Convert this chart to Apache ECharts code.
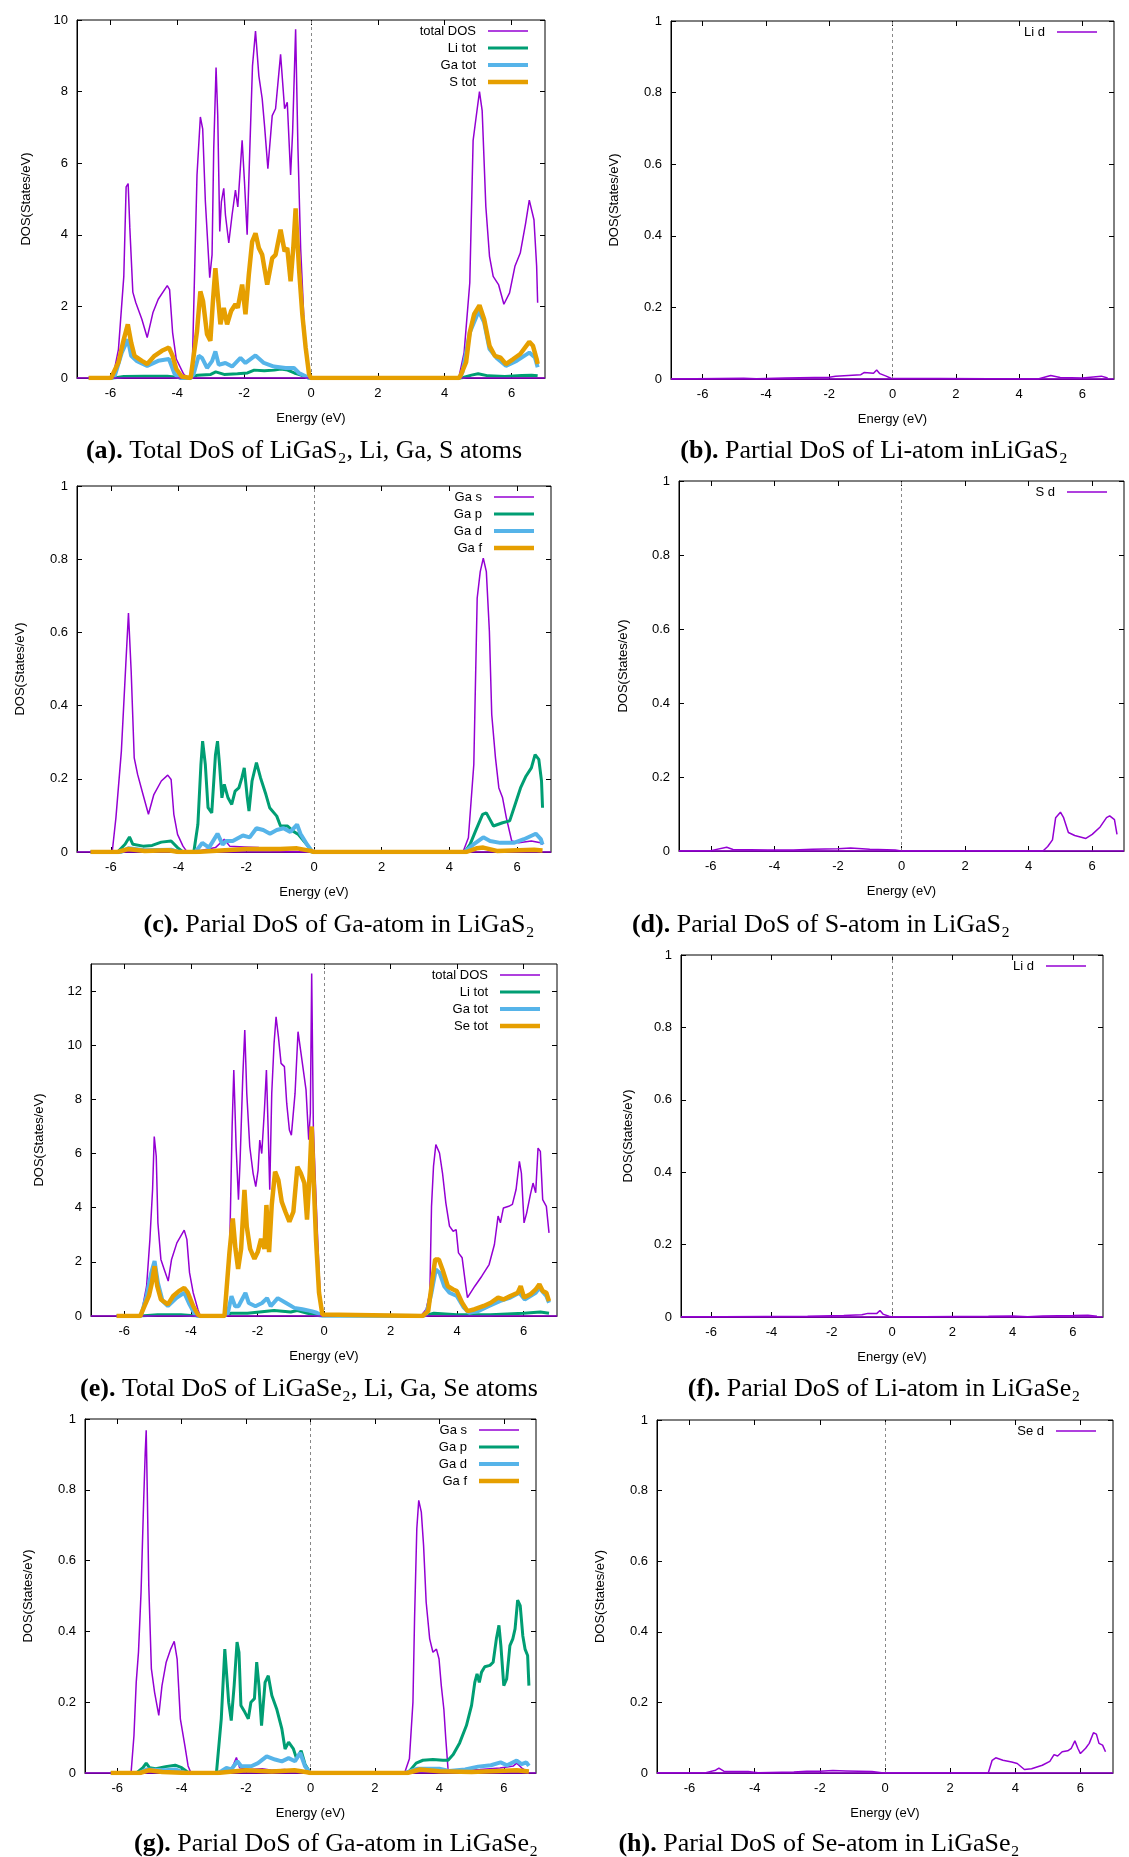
<!DOCTYPE html>
<html>
<head>
<meta charset="utf-8">
<script src="https://cdn.jsdelivr.net/npm/echarts@6/dist/echarts.min.js"></script>
<style>
  html, body { margin: 0; padding: 0; background: #fff; }
  #main { width: 1129px; height: 1857px; }
</style>
</head>
<body>
<div id="main"></div>
<script>
// tick values shared by the panels
const xTicks = [-6, -4, -2, 0, 2, 4, 6];
const yTicksA = [0, 2, 4, 6, 8, 10];
const yTicksE = [0, 2, 4, 6, 8, 10, 12];
const yTicksP = [0, 0.2, 0.4, 0.6, 0.8, 1];

// (a) LiGaS2 total + atoms  [energy eV, DOS]
const aTotal = [[-6.65,0],[-5.93,0],[-5.76,0.8],[-5.6,2.84],[-5.53,5.34],[-5.47,5.43],[-5.42,4.2],[-5.33,2.4],[-5.24,2.1],[-5.06,1.64],[-4.9,1.13],[-4.73,1.82],[-4.57,2.2],[-4.3,2.58],[-4.23,2.47],[-4.14,1.27],[-4.03,0.53],[-3.81,0.11],[-3.7,0],[-3.56,0],[-3.41,5.67],[-3.31,7.29],[-3.24,6.96],[-3.16,4.93],[-3.03,2.8],[-2.96,3.44],[-2.91,6.4],[-2.84,8.67],[-2.79,7.33],[-2.73,4.09],[-2.68,4.93],[-2.61,5.3],[-2.56,4.56],[-2.46,3.77],[-2.36,4.56],[-2.26,5.25],[-2.19,4.78],[-2.06,6.64],[-1.99,5.48],[-1.91,4.0],[-1.83,6.4],[-1.75,8.72],[-1.66,9.69],[-1.56,8.44],[-1.46,7.8],[-1.39,7.05],[-1.29,5.85],[-1.16,7.33],[-1.06,7.52],[-0.91,9.04],[-0.79,7.52],[-0.71,7.7],[-0.61,5.67],[-0.55,6.87],[-0.46,9.74],[-0.39,6.4],[-0.31,3.63],[-0.21,1.6],[-0.11,0.48],[-0.03,0.07],[0,0],[4.42,0],[4.58,0.71],[4.75,2.66],[4.85,6.64],[4.94,7.29],[5.04,8.0],[5.12,7.47],[5.23,4.79],[5.34,3.4],[5.45,2.84],[5.61,2.61],[5.77,2.06],[5.94,2.38],[6.1,3.12],[6.26,3.49],[6.42,4.32],[6.53,4.97],[6.67,4.42],[6.75,3.12],[6.78,2.1]];
const aLi = [[-6.65,0],[-5.9,0],[-5.6,0.04],[-5,0.05],[-4.3,0.05],[-4.0,0.02],[-3.6,0],[-3.4,0.08],[-3.0,0.1],[-2.85,0.17],[-2.6,0.1],[-2.2,0.12],[-1.9,0.14],[-1.7,0.22],[-1.4,0.2],[-1.1,0.22],[-0.9,0.25],[-0.7,0.22],[-0.5,0.14],[-0.3,0.08],[-0.1,0.01],[0,0],[4.5,0],[4.8,0.08],[5.0,0.12],[5.3,0.06],[5.8,0.04],[6.3,0.07],[6.6,0.08],[6.78,0.06]];
const aGa = [[-6.65,0],[-5.95,0],[-5.87,0.06],[-5.66,0.71],[-5.48,1.08],[-5.38,0.62],[-5.22,0.48],[-4.9,0.34],[-4.57,0.48],[-4.25,0.53],[-4.08,0.11],[-3.92,0],[-3.6,0],[-3.51,0.11],[-3.36,0.62],[-3.26,0.56],[-3.11,0.28],[-2.96,0.47],[-2.86,0.74],[-2.76,0.37],[-2.56,0.42],[-2.36,0.32],[-2.11,0.56],[-1.96,0.42],[-1.66,0.63],[-1.41,0.42],[-1.11,0.32],[-0.76,0.28],[-0.51,0.28],[-0.36,0.14],[-0.16,0.05],[-0.06,0],[4.45,0],[4.53,0.16],[4.75,1.27],[5.02,1.87],[5.18,1.55],[5.34,0.81],[5.56,0.55],[5.83,0.34],[6.15,0.48],[6.53,0.71],[6.7,0.57],[6.78,0.3]];
const aS = [[-6.65,0],[-5.98,0],[-5.76,0.44],[-5.6,1.08],[-5.48,1.5],[-5.38,0.99],[-5.28,0.62],[-5.06,0.48],[-4.9,0.39],[-4.68,0.62],[-4.46,0.76],[-4.25,0.85],[-4.14,0.62],[-4.03,0.25],[-3.87,0.04],[-3.6,0],[-3.56,0.04],[-3.41,1.31],[-3.31,2.42],[-3.23,2.15],[-3.11,1.22],[-3.01,1.04],[-2.94,2.06],[-2.86,3.07],[-2.79,2.33],[-2.71,1.5],[-2.61,1.96],[-2.51,1.5],[-2.39,1.87],[-2.26,2.06],[-2.19,1.96],[-2.06,2.61],[-1.96,1.78],[-1.86,2.89],[-1.76,3.81],[-1.66,4.04],[-1.56,3.63],[-1.46,3.44],[-1.31,2.61],[-1.16,3.35],[-1.06,3.44],[-0.91,4.14],[-0.79,3.54],[-0.71,3.63],[-0.61,2.7],[-0.53,3.63],[-0.46,4.74],[-0.36,3.07],[-0.26,1.78],[-0.16,0.85],[-0.06,0.11],[0,0],[4.42,0],[4.47,0.06],[4.64,0.44],[4.75,1.27],[4.88,1.78],[5.04,2.03],[5.18,1.64],[5.34,0.9],[5.5,0.62],[5.67,0.57],[5.83,0.39],[6.05,0.53],[6.26,0.67],[6.53,1.01],[6.64,0.9],[6.75,0.53],[6.78,0.39]];

// (b) Li d in LiGaS2
const bLi = [[-7,0],[-4.7,0.002],[-4.3,0.001],[-3.4,0.003],[-2.0,0.005],[-1.8,0.008],[-1.0,0.012],[-0.9,0.018],[-0.6,0.016],[-0.5,0.025],[-0.4,0.015],[-0.2,0.008],[-0.05,0.002],[0,0],[4.6,0],[4.8,0.005],[5.0,0.01],[5.3,0.004],[6.0,0.003],[6.6,0.008],[6.8,0.003]];

// (c) Ga orbitals in LiGaS2
const cS = [[-6.6,0],[-5.96,0],[-5.85,0.094],[-5.69,0.275],[-5.56,0.51],[-5.48,0.653],[-5.4,0.494],[-5.31,0.257],[-5.21,0.212],[-5.05,0.157],[-4.89,0.103],[-4.73,0.157],[-4.51,0.194],[-4.32,0.21],[-4.22,0.198],[-4.14,0.103],[-4.03,0.048],[-3.87,0.016],[-3.77,0.003],[-3.55,0],[-3.3,0.005],[-2.91,0.012],[-2.65,0.035],[-2.49,0.016],[-2.06,0.014],[-1.63,0.012],[-1.2,0.003],[0,0],[4.4,0],[4.56,0.039],[4.72,0.239],[4.82,0.694],[4.91,0.766],[5.0,0.803],[5.09,0.766],[5.18,0.603],[5.25,0.375],[5.36,0.257],[5.46,0.175],[5.57,0.148],[5.68,0.094],[5.84,0.03],[6.05,0.025],[6.42,0.03],[6.69,0.025],[6.75,0.02]];
const cP = [[-6.6,0],[-5.8,0],[-5.58,0.021],[-5.45,0.041],[-5.35,0.021],[-5.05,0.016],[-4.78,0.018],[-4.51,0.027],[-4.22,0.03],[-4.03,0.012],[-3.87,0],[-3.55,0],[-3.43,0.075],[-3.34,0.239],[-3.29,0.303],[-3.21,0.239],[-3.13,0.121],[-3.02,0.107],[-2.91,0.266],[-2.85,0.303],[-2.79,0.239],[-2.72,0.148],[-2.65,0.185],[-2.54,0.148],[-2.43,0.13],[-2.33,0.166],[-2.22,0.175],[-2.13,0.203],[-2.06,0.23],[-1.97,0.148],[-1.92,0.112],[-1.83,0.194],[-1.7,0.244],[-1.58,0.203],[-1.42,0.157],[-1.31,0.121],[-1.1,0.098],[-0.99,0.071],[-0.78,0.071],[-0.62,0.057],[-0.46,0.048],[-0.3,0.03],[-0.14,0.012],[-0.03,0],[4.45,0],[4.61,0.021],[4.77,0.057],[4.98,0.103],[5.09,0.107],[5.3,0.071],[5.57,0.08],[5.78,0.085],[5.94,0.13],[6.1,0.175],[6.26,0.207],[6.42,0.23],[6.53,0.266],[6.64,0.253],[6.72,0.194],[6.75,0.121]];
const cD = [[-6.6,0],[-5.7,0],[-5.48,0.01],[-5.0,0.005],[-4.2,0.006],[-4.0,0],[-3.5,0],[-3.3,0.025],[-3.1,0.012],[-2.85,0.05],[-2.7,0.02],[-2.6,0.03],[-2.4,0.03],[-2.1,0.045],[-1.9,0.04],[-1.7,0.065],[-1.5,0.06],[-1.3,0.05],[-1.1,0.06],[-0.9,0.065],[-0.7,0.055],[-0.5,0.075],[-0.4,0.05],[-0.2,0.02],[-0.05,0],[4.45,0],[4.7,0.02],[5.0,0.04],[5.2,0.03],[5.5,0.025],[5.9,0.025],[6.2,0.035],[6.55,0.05],[6.7,0.035],[6.75,0.02]];
const cF = [[-6.6,0],[-5.8,0],[-5.5,0.008],[-5.0,0.003],[-4.3,0.005],[-4.0,0],[-3.5,0],[-2.0,0.008],[-1.0,0.008],[-0.5,0.01],[-0.1,0.003],[0,0],[4.5,0],[4.8,0.01],[5.0,0.012],[5.4,0.003],[6.5,0.006],[6.75,0.004]];

// (d) S d in LiGaS2
const dS = [[-7,0],[-6.0,0.001],[-5.5,0.01],[-5.3,0.004],[-4.2,0.003],[-3.4,0.003],[-2.8,0.005],[-2.0,0.006],[-1.6,0.008],[-1.0,0.005],[-0.2,0.003],[0,0],[4.45,0],[4.6,0.012],[4.75,0.03],[4.85,0.09],[5.0,0.105],[5.1,0.09],[5.25,0.05],[5.45,0.042],[5.8,0.034],[6.0,0.045],[6.25,0.065],[6.45,0.09],[6.55,0.095],[6.7,0.085],[6.78,0.045]];

// (e) LiGaSe2 total + atoms
const eTotal = [[-6.23,0],[-5.5,0],[-5.33,1.1],[-5.23,2.83],[-5.15,4.67],[-5.1,6.63],[-5.04,5.9],[-4.99,3.44],[-4.9,2.09],[-4.8,1.72],[-4.68,1.29],[-4.58,2.09],[-4.42,2.7],[-4.2,3.17],[-4.12,2.83],[-4.04,1.6],[-3.93,0.86],[-3.79,0.25],[-3.72,0],[-2.99,0],[-2.84,2.1],[-2.76,7.0],[-2.71,9.08],[-2.64,6.25],[-2.57,4.29],[-2.52,5.76],[-2.44,8.84],[-2.38,10.56],[-2.32,8.22],[-2.23,6.25],[-2.13,5.27],[-2.05,4.78],[-1.98,5.39],[-1.93,6.5],[-1.87,6.0],[-1.79,7.61],[-1.73,9.08],[-1.68,7.0],[-1.63,4.66],[-1.57,8.22],[-1.5,10.07],[-1.44,11.05],[-1.37,10.32],[-1.29,9.33],[-1.19,9.21],[-1.12,7.85],[-1.04,6.87],[-0.98,6.68],[-0.87,8.22],[-0.78,10.5],[-0.65,9.34],[-0.54,8.35],[-0.46,6.51],[-0.41,7.49],[-0.37,12.65],[-0.32,7.0],[-0.27,5.28],[-0.19,2.83],[-0.11,0.61],[-0.03,0.04],[0,0],[2.91,0],[3.07,0.25],[3.18,0.86],[3.23,4.05],[3.29,5.53],[3.36,6.33],[3.47,6.02],[3.56,5.28],[3.66,4.18],[3.77,3.32],[3.88,3.13],[3.97,3.19],[4.04,2.33],[4.15,2.15],[4.26,1.1],[4.31,0.68],[4.53,1.1],[4.74,1.47],[4.96,1.9],[5.12,2.64],[5.23,3.69],[5.3,3.44],[5.39,3.99],[5.55,4.05],[5.66,4.12],[5.77,4.67],[5.87,5.71],[5.93,5.28],[6.01,3.44],[6.09,3.81],[6.2,4.48],[6.28,4.91],[6.36,4.55],[6.43,6.2],[6.5,6.08],[6.57,4.3],[6.68,4.05],[6.76,3.07]];
const eLi = [[-6.23,0],[-5.5,0],[-5.0,0.05],[-4.3,0.05],[-3.8,0],[-3.0,0],[-2.8,0.1],[-2.3,0.1],[-1.5,0.2],[-1.0,0.15],[-0.8,0.2],[-0.5,0.1],[-0.1,0],[3.0,0],[3.3,0.1],[4.0,0.05],[5.0,0.05],[6.0,0.1],[6.5,0.15],[6.76,0.1]];
const eGa = [[-6.23,0],[-5.5,0],[-5.33,0.74],[-5.19,1.6],[-5.09,2.03],[-4.99,1.23],[-4.85,0.55],[-4.69,0.37],[-4.42,0.68],[-4.2,0.86],[-4.04,0.43],[-3.88,0.06],[-3.79,0],[-3.0,0],[-2.89,0.1],[-2.78,0.73],[-2.67,0.36],[-2.57,0.36],[-2.36,0.85],[-2.26,0.48],[-2.06,0.36],[-1.86,0.48],[-1.71,0.66],[-1.6,0.36],[-1.39,0.66],[-1.14,0.48],[-0.89,0.3],[-0.65,0.25],[-0.38,0.18],[-0.22,0.12],[-0.05,0.02],[0,0],[2.95,0],[3.07,0.06],[3.23,0.86],[3.36,1.72],[3.47,1.6],[3.61,1.1],[3.77,0.86],[3.99,0.74],[4.2,0.31],[4.36,0.12],[4.63,0.18],[4.96,0.37],[5.28,0.55],[5.6,0.68],[5.87,0.86],[6.03,0.61],[6.36,0.86],[6.47,1.04],[6.68,0.74],[6.76,0.49]];
const eSe = [[-6.23,0],[-5.52,0],[-5.39,0.37],[-5.26,0.74],[-5.17,1.23],[-5.09,1.84],[-5.01,1.1],[-4.9,0.61],[-4.69,0.43],[-4.53,0.74],[-4.36,0.92],[-4.2,1.04],[-4.09,0.86],[-3.93,0.37],[-3.79,0.06],[-3.72,0],[-2.99,0],[-2.84,2.36],[-2.74,3.6],[-2.66,2.48],[-2.58,1.74],[-2.49,2.48],[-2.39,4.66],[-2.32,3.3],[-2.22,2.48],[-2.09,2.11],[-1.99,2.36],[-1.89,2.85],[-1.79,2.48],[-1.73,4.1],[-1.65,2.36],[-1.57,4.1],[-1.47,5.33],[-1.37,5.02],[-1.27,4.22],[-1.16,3.85],[-1.04,3.48],[-0.92,3.85],[-0.8,5.51],[-0.7,5.28],[-0.59,4.91],[-0.51,3.56],[-0.43,5.28],[-0.37,7.0],[-0.32,5.28],[-0.24,2.83],[-0.15,0.86],[-0.05,0.06],[0,0],[2.96,0],[3.13,0.18],[3.23,1.1],[3.34,2.09],[3.45,2.09],[3.56,1.72],[3.72,1.1],[3.88,0.98],[3.99,0.92],[4.15,0.49],[4.31,0.18],[4.53,0.25],[4.8,0.37],[5.01,0.49],[5.23,0.68],[5.39,0.61],[5.6,0.74],[5.82,0.86],[5.91,1.1],[6.01,0.68],[6.2,0.8],[6.36,0.98],[6.47,1.17],[6.57,0.92],[6.68,0.86],[6.76,0.55]];

// (f) Li d in LiGaSe2
const fLi = [[-7,0],[-2.8,0.002],[-1.6,0.004],[-1.0,0.006],[-0.8,0.01],[-0.5,0.01],[-0.4,0.018],[-0.3,0.008],[-0.1,0.002],[0,0],[3.2,0.002],[4.0,0.003],[4.5,0.001],[5.0,0.003],[6.0,0.004],[6.5,0.005],[6.8,0.002]];

// (g) Ga orbitals in LiGaSe2
const gS = [[-6.2,0],[-5.57,0],[-5.48,0.106],[-5.41,0.256],[-5.34,0.341],[-5.26,0.511],[-5.18,0.766],[-5.13,0.907],[-5.1,0.968],[-5.07,0.813],[-5.02,0.53],[-4.94,0.295],[-4.84,0.228],[-4.71,0.163],[-4.61,0.247],[-4.48,0.313],[-4.34,0.35],[-4.23,0.372],[-4.14,0.322],[-4.04,0.153],[-3.9,0.077],[-3.8,0.02],[-3.71,0],[-2.5,0],[-2.3,0.044],[-2.2,0.015],[-1.9,0.01],[-1.5,0.012],[-1.2,0.008],[-0.8,0.01],[-0.5,0.006],[-0.2,0.003],[0,0],[2.92,0],[3.07,0.04],[3.18,0.2],[3.23,0.435],[3.3,0.69],[3.36,0.77],[3.44,0.737],[3.51,0.643],[3.59,0.483],[3.7,0.379],[3.8,0.341],[3.91,0.35],[3.99,0.322],[4.06,0.247],[4.14,0.18],[4.2,0.096],[4.27,0.01],[4.43,0.005],[5.26,0.01],[5.88,0.014],[6.3,0.02],[6.4,0.028],[6.56,0.014],[6.71,0.005]];
const gP = [[-6.2,0],[-5.4,0],[-5.2,0.015],[-5.1,0.028],[-5.0,0.015],[-4.8,0.012],[-4.5,0.018],[-4.2,0.022],[-4.0,0.015],[-3.85,0.005],[-3.75,0],[-2.92,0],[-2.77,0.153],[-2.66,0.35],[-2.61,0.35],[-2.54,0.2],[-2.46,0.148],[-2.37,0.247],[-2.28,0.37],[-2.22,0.341],[-2.16,0.191],[-2.04,0.172],[-1.93,0.153],[-1.85,0.2],[-1.74,0.21],[-1.67,0.313],[-1.6,0.247],[-1.52,0.134],[-1.41,0.256],[-1.31,0.275],[-1.2,0.219],[-1.05,0.181],[-0.89,0.125],[-0.79,0.068],[-0.68,0.087],[-0.53,0.068],[-0.43,0.04],[-0.29,0.063],[-0.17,0.025],[-0.01,0],[2.95,0],[3.07,0.005],[3.28,0.028],[3.49,0.036],[3.8,0.038],[4.11,0.036],[4.27,0.036],[4.43,0.052],[4.63,0.085],[4.84,0.134],[5.0,0.191],[5.1,0.256],[5.17,0.28],[5.24,0.256],[5.31,0.285],[5.41,0.3],[5.57,0.304],[5.67,0.313],[5.77,0.379],[5.85,0.417],[5.91,0.36],[6.0,0.247],[6.09,0.266],[6.19,0.36],[6.28,0.379],[6.35,0.407],[6.43,0.488],[6.51,0.473],[6.59,0.388],[6.66,0.35],[6.74,0.332],[6.78,0.247]];
const gD = [[-6.2,0],[-5.3,0],[-5.1,0.01],[-4.5,0.008],[-4.2,0.01],[-3.9,0],[-2.9,0],[-2.77,0.005],[-2.61,0.014],[-2.46,0.01],[-2.27,0.033],[-2.15,0.019],[-1.84,0.019],[-1.63,0.028],[-1.36,0.047],[-1.1,0.038],[-0.89,0.033],[-0.68,0.042],[-0.48,0.033],[-0.32,0.057],[-0.17,0.019],[-0.01,0],[2.95,0],[3.1,0.005],[3.3,0.012],[4.0,0.012],[4.3,0.006],[4.8,0.01],[5.2,0.018],[5.6,0.022],[5.9,0.03],[6.1,0.022],[6.4,0.035],[6.55,0.025],[6.7,0.03],[6.78,0.02]];
const gF = [[-6.2,0],[-5.3,0],[-5.0,0.008],[-4.6,0.003],[-3.8,0],[-2.9,0],[-2.0,0.008],[-1.2,0.004],[-0.5,0.008],[-0.1,0.002],[0,0],[3.0,0],[3.2,0.005],[3.4,0.01],[4.0,0.005],[5.0,0.003],[6.4,0.008],[6.78,0.004]];

// (h) Se d in LiGaSe2
const hSe = [[-7,0],[-5.5,0.001],[-5.2,0.008],[-5.1,0.014],[-4.95,0.005],[-4.5,0.004],[-4.2,0.004],[-3.9,0.001],[-2.8,0.003],[-2.4,0.005],[-2.0,0.005],[-1.6,0.007],[-1.2,0.006],[-0.8,0.005],[-0.4,0.004],[-0.1,0.001],[0,0],[3.17,0],[3.29,0.036],[3.4,0.043],[3.62,0.036],[3.89,0.031],[4.06,0.027],[4.28,0.01],[4.5,0.012],[4.83,0.022],[5.06,0.033],[5.19,0.052],[5.3,0.048],[5.44,0.06],[5.61,0.063],[5.72,0.07],[5.83,0.091],[5.92,0.07],[6.0,0.055],[6.16,0.07],[6.27,0.084],[6.33,0.079],[6.4,0.114],[6.49,0.11],[6.57,0.084],[6.68,0.079],[6.77,0.06]];

var chartDom = document.getElementById('main');
var myChart = echarts.init(chartDom);
var option;

const PURPLE = '#9400d3';
const GREEN = '#009e73';
const BLUE = '#56b4e9';
const ORANGE = '#e69f00';
const lineWidth = { [PURPLE]: 1.5, [GREEN]: 3, [BLUE]: 4, [ORANGE]: 4.5 };
const SANS = 'Liberation Sans';
const SERIF = 'Liberation Serif';

// layout of each panel: grid box [left, top, width, height]
const panels = [
  { box: [77, 20, 468, 358], ymax: 10, yTicks: yTicksA, yGap: 44,
    cap: '{b|(a).} Total DoS of LiGaS₂, Li, Ga, S atoms', capAt: [304, 438],
    lines: [['total DOS', aTotal, PURPLE], ['Li tot', aLi, GREEN], ['Ga tot', aGa, BLUE], ['S tot', aS, ORANGE]] },
  { box: [671, 21, 443, 358], ymax: 1, yTicks: yTicksP, yGap: 50,
    cap: '{b|(b).} Partial DoS of Li-atom inLiGaS₂', capAt: [874, 438],
    lines: [['Li d', bLi, PURPLE]] },
  { box: [77, 486, 474, 366], ymax: 1, yTicks: yTicksP, yGap: 50,
    cap: '{b|(c).} Parial DoS of Ga-atom in LiGaS₂', capAt: [339, 912],
    lines: [['Ga s', cS, PURPLE], ['Ga p', cP, GREEN], ['Ga d', cD, BLUE], ['Ga f', cF, ORANGE]] },
  { box: [679, 481, 445, 370], ymax: 1, yTicks: yTicksP, yGap: 49,
    cap: '{b|(d).} Parial DoS of S-atom in LiGaS₂', capAt: [821, 912],
    lines: [['S d', dS, PURPLE]] },
  { box: [91, 964, 466, 352], ymax: 13, yTicks: yTicksE, yGap: 45,
    cap: '{b|(e).} Total DoS of LiGaSe₂, Li, Ga, Se atoms', capAt: [309, 1376],
    lines: [['total DOS', eTotal, PURPLE], ['Li tot', eLi, GREEN], ['Ga tot', eGa, BLUE], ['Se tot', eSe, ORANGE]] },
  { box: [681, 955, 422, 362], ymax: 1, yTicks: yTicksP, yGap: 46,
    cap: '{b|(f).} Parial DoS of Li-atom in LiGaSe₂', capAt: [884, 1376],
    lines: [['Li d', fLi, PURPLE]] },
  { box: [85, 1419, 451, 354], ymax: 1, yTicks: yTicksP, yGap: 50,
    cap: '{b|(g).} Parial DoS of Ga-atom in LiGaSe₂', capAt: [336, 1831],
    lines: [['Ga s', gS, PURPLE], ['Ga p', gP, GREEN], ['Ga d', gD, BLUE], ['Ga f', gF, ORANGE]] },
  { box: [657, 1420, 456, 353], ymax: 1, yTicks: yTicksP, yGap: 50,
    cap: '{b|(h).} Parial DoS of Se-atom in LiGaSe₂', capAt: [819, 1831],
    lines: [['Se d', hSe, PURPLE]] }
];

const grid = [], xAxis = [], yAxis = [], series = [], legend = [], title = [];
const tickStyle = { inside: true, length: 5, lineStyle: { color: '#000', width: 1 } };
const labelFont = { fontFamily: SANS, fontSize: 13, color: '#000' };

panels.forEach((p, i) => {
  const [l, t, w, h] = p.box;
  grid.push({ left: l, top: t, width: w, height: h, show: true, borderColor: '#000', borderWidth: 1 });

  // bottom + mirrored top x axis
  xAxis.push({
    type: 'value', gridIndex: i, position: 'bottom', min: -7, max: 7,
    name: 'Energy (eV)', nameLocation: 'middle', nameGap: 34, nameTextStyle: labelFont,
    axisLine: { onZero: false, lineStyle: { color: '#000' } },
    axisTick: Object.assign({ customValues: xTicks }, tickStyle),
    axisLabel: Object.assign({ customValues: xTicks, margin: 9 }, labelFont),
    splitLine: { show: false }
  });
  xAxis.push({
    type: 'value', gridIndex: i, position: 'top', min: -7, max: 7,
    axisLine: { show: false, onZero: false },
    axisTick: Object.assign({ customValues: xTicks }, tickStyle),
    axisLabel: { show: false, customValues: xTicks },
    splitLine: { show: false }
  });
  // left + mirrored right y axis
  yAxis.push({
    type: 'value', gridIndex: i, position: 'left', min: 0, max: p.ymax,
    name: 'DOS(States/eV)', nameLocation: 'middle', nameGap: p.yGap, nameRotate: 90, nameTextStyle: labelFont,
    axisLine: { show: true, onZero: false, lineStyle: { color: '#000' } },
    axisTick: Object.assign({ customValues: p.yTicks }, tickStyle),
    axisLabel: Object.assign({ customValues: p.yTicks, margin: 9 }, labelFont),
    splitLine: { show: false }
  });
  yAxis.push({
    type: 'value', gridIndex: i, position: 'right', min: 0, max: p.ymax,
    axisLine: { show: false, onZero: false },
    axisTick: Object.assign({ customValues: p.yTicks }, tickStyle),
    axisLabel: { show: false, customValues: p.yTicks },
    splitLine: { show: false }
  });

  p.lines.forEach((ln, k) => {
    const lw = lineWidth[ln[2]];
    const s = {
      name: ln[0], type: 'line', xAxisIndex: 2 * i, yAxisIndex: 2 * i,
      data: ln[1], symbol: 'none', smooth: false, z: 2 + k,
      lineStyle: { color: ln[2], width: lw },
      itemStyle: { color: ln[2] }
    };
    if (k === 0) {
      s.markLine = {
        silent: true, symbol: ['none', 'none'], label: { show: false }, animation: false,
        data: [
          { xAxis: 0, lineStyle: { type: [3, 3], color: '#888', width: 1 } },
          { yAxis: 0, lineStyle: { type: 'solid', color: PURPLE, width: 1.5 } }
        ]
      };
    }
    series.push(s);

    // gnuplot style key: text right-aligned, sample line on the right
    const rowY = t + 12 + 17 * k;
    legend.push({
      data: [ln[0]], orient: 'vertical', align: 'right', selectedMode: false,
      icon: 'rect', itemWidth: 40, itemHeight: lw,
      right: 1129 - (l + w) + 17, top: rowY - 7.5, padding: 0,
      textStyle: { fontFamily: SANS, fontSize: 13, color: '#000', padding: [0, 7, 0, 0] }
    });
  });

  title.push({
    text: p.cap, left: p.capAt[0], top: p.capAt[1], textAlign: 'center', padding: 0,
    textStyle: {
      fontFamily: SERIF, fontSize: 26, fontWeight: 'normal', color: '#000',
      rich: { b: { fontFamily: SERIF, fontSize: 26, fontWeight: 'bold', color: '#000' } }
    }
  });
});

option = {
  animation: false,
  backgroundColor: '#fff',
  title: title,
  legend: legend,
  grid: grid,
  xAxis: xAxis,
  yAxis: yAxis,
  series: series
};

option && myChart.setOption(option);
</script>
</body>
</html>
